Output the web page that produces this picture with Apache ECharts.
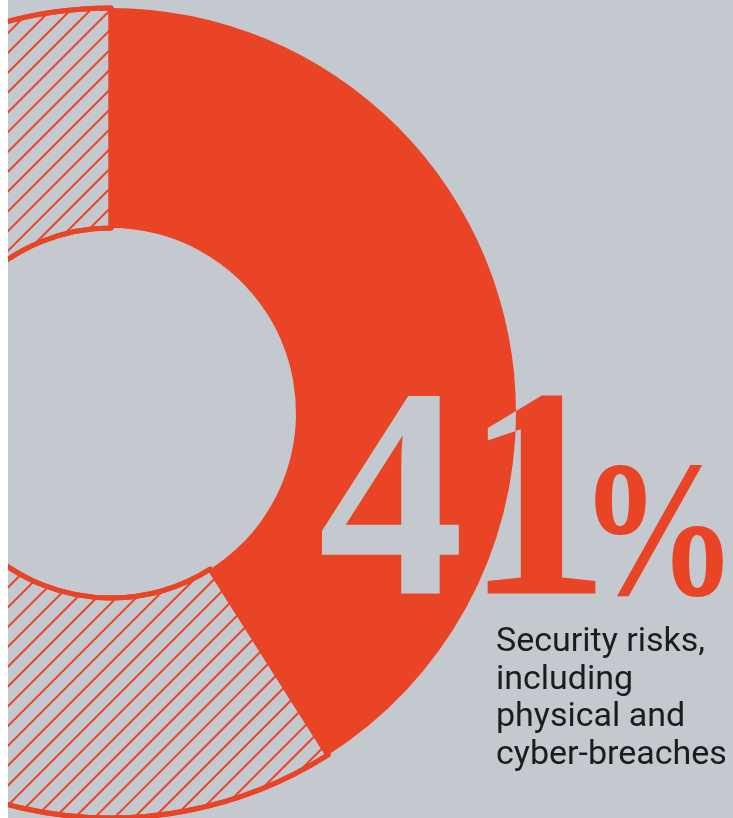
<!DOCTYPE html>
<html>
<head>
<meta charset="utf-8">
<script src="https://cdn.jsdelivr.net/npm/echarts@6/dist/echarts.min.js"></script>
<style>
  html, body { margin: 0; padding: 0; background: #ffffff; }
  #chart { width: 733px; height: 818px; }
</style>
</head>
<body>
<div id="chart"></div>
<script>
// Share of respondents naming each risk
const shareLabels = ['Security risks, including physical and cyber-breaches', 'Other'];
const shareValues = [41, 59];
const captionLines = ['Security risks,', 'including', 'physical and', 'cyber-breaches'];

const RED = '#E94426';
const GRAY = '#C4C8CF';
const INK = '#1c1c1c';

// Donut geometry (the ring is deliberately cropped by the left edge)
const CX = 111, CY = 413, R_IN = 185, R_OUT = 405;

const chart = echarts.init(document.getElementById('chart'), null, { renderer: 'canvas' });

chart.setOption({
  backgroundColor: GRAY,
  animation: false,
  series: [{
    type: 'pie',
    silent: true,
    center: [CX, CY],
    radius: [R_IN, R_OUT],
    startAngle: 90,
    clockwise: true,
    label: { show: false },
    labelLine: { show: false },
    data: [
      { value: shareValues[0], name: shareLabels[0], itemStyle: { color: RED } },
      {
        value: shareValues[1], name: shareLabels[1],
        itemStyle: {
          color: GRAY, borderColor: RED, borderWidth: 5,
          decal: {
            symbol: 'rect', symbolSize: 1, color: RED,
            dashArrayX: [1, 0], dashArrayY: [1.4, 11.6],
            rotation: -Math.PI / 4
          }
        }
      }
    ]
  }],
  graphic: [
    // Headline number on its own layer: drawn red, then recoloured gray
    // wherever it lies inside the ring's outer edge (source-atop).
    {
      type: 'text', zlevel: 1, z: 1, silent: true,
      x: 318, y: 0, scaleX: 0.975, scaleY: 1,
      style: {
        text: String(shareValues[0]), x: 0, y: 516,
        font: 'bold 300px "Liberation Serif"',
        fill: RED, align: 'left', verticalAlign: 'middle'
      }
    },
    {
      type: 'circle', zlevel: 1, z: 2, silent: true,
      shape: { cx: CX, cy: CY, r: R_OUT },
      style: { fill: GRAY, blend: 'source-atop' }
    },
    {
      type: 'text', z: 10, silent: true,
      x: 579, y: 0, scaleX: 0.81, scaleY: 1,
      style: {
        text: '%', x: 0, y: 543,
        font: 'bold 196px "Liberation Serif"',
        fill: RED, align: 'left', verticalAlign: 'middle'
      }
    },
    {
      type: 'text', z: 10, silent: true,
      style: {
        text: captionLines.join('\n'), x: 496, y: 624,
        font: '400 34px Roboto', lineHeight: 37.5,
        fill: INK, align: 'left', verticalAlign: 'top'
      }
    },
    {
      type: 'rect', z: 20, silent: true,
      shape: { x: 0, y: 0, width: 8, height: 818 },
      style: { fill: '#ffffff' }
    }
  ]
});
</script>
</body>
</html>
